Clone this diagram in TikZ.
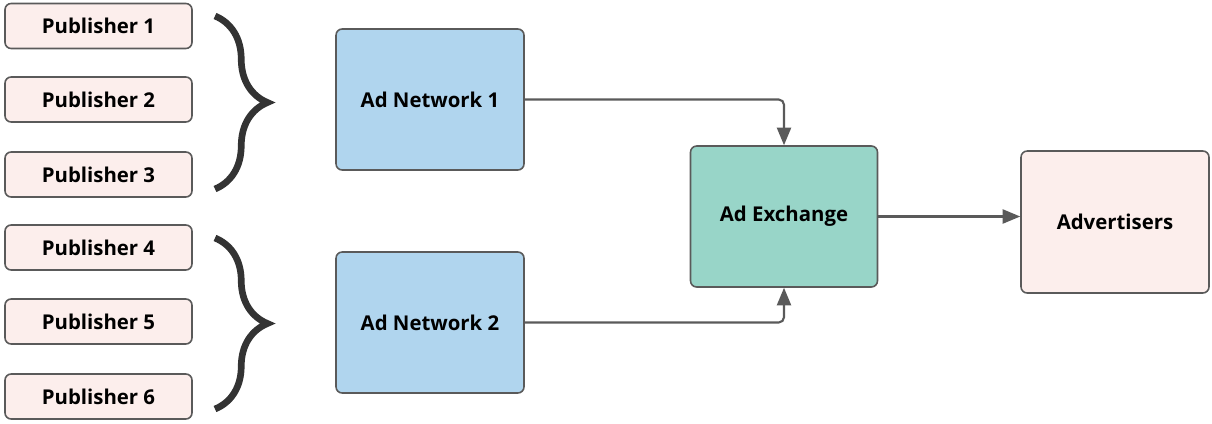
\documentclass[tikz,border=0pt]{standalone}
\usepackage{fontspec}
\setmainfont{Open Sans}
\usetikzlibrary{arrows.meta,decorations.pathreplacing}

\definecolor{pubfill}{HTML}{FCEEEC}
\definecolor{netfill}{HTML}{B0D5EE}
\definecolor{exfill}{HTML}{98D5C8}
\definecolor{edge}{HTML}{5A5A5A}
\definecolor{bracecol}{HTML}{333333}

\begin{document}
\begin{tikzpicture}
  [x=0.02cm, y=-0.02cm,
    box/.style={
      draw=edge, line width=0.9pt,
      rounded corners=3.5pt,
      text centered,
      font=\fontsize{11.6}{13}\selectfont\bfseries
    },
    publisher/.style={
      box, fill=pubfill,
      minimum width=3.74cm, minimum height=0.9cm
    },
    network/.style={
      box, fill=netfill,
      minimum width=3.76cm, minimum height=2.82cm
    },
    exchange/.style={
      box, fill=exfill,
      minimum width=3.74cm, minimum height=2.82cm
    },
    advertiser/.style={
      box, fill=pubfill,
      minimum width=3.76cm, minimum height=2.84cm
    },
    group/.style={
      draw=bracecol, line width=3.8pt,
      decorate, decoration={brace, amplitude=1.05cm}
    },
    flow/.style={
      draw=edge, line width=1.2pt, rounded corners=3pt,
      -{Triangle[length=10pt, width=8pt]}
    }
  ]
  \useasboundingbox (0,0) rectangle (1212,423);

  % publishers
  \node[publisher] (p1) at (98.5,26)  {Publisher 1};
  \node[publisher] (p2) at (98.5,99.5) {Publisher 2};
  \node[publisher] (p3) at (98.5,174.5) {Publisher 3};
  \node[publisher] (p4) at (98.5,247.5) {Publisher 4};
  \node[publisher] (p5) at (98.5,321.5) {Publisher 5};
  \node[publisher] (p6) at (98.5,396.5) {Publisher 6};

  % braces
  \coordinate (b1top) at (215,16);
  \coordinate (b1bot) at (215,189);
  \coordinate (b2top) at (215,238);
  \coordinate (b2bot) at (215,409);
  \draw[group] (b1top) -- (b1bot);
  \draw[group] (b2top) -- (b2bot);

  \node[network] (an1) at (430,99.5) {Ad Network 1};
  \node[network] (an2) at (430,322.5) {Ad Network 2};
  \node[exchange] (adx) at (784,216.5) {Ad Exchange};
  \node[advertiser] (adv) at (1115,222) {Advertisers};

  \draw[flow] (an1.east) -| (adx.north);
  \draw[flow] (an2.east) -| (adx.south);
  \draw[flow] (adx.east) -- (adv.west |- adx.east);
\end{tikzpicture}
\end{document}
